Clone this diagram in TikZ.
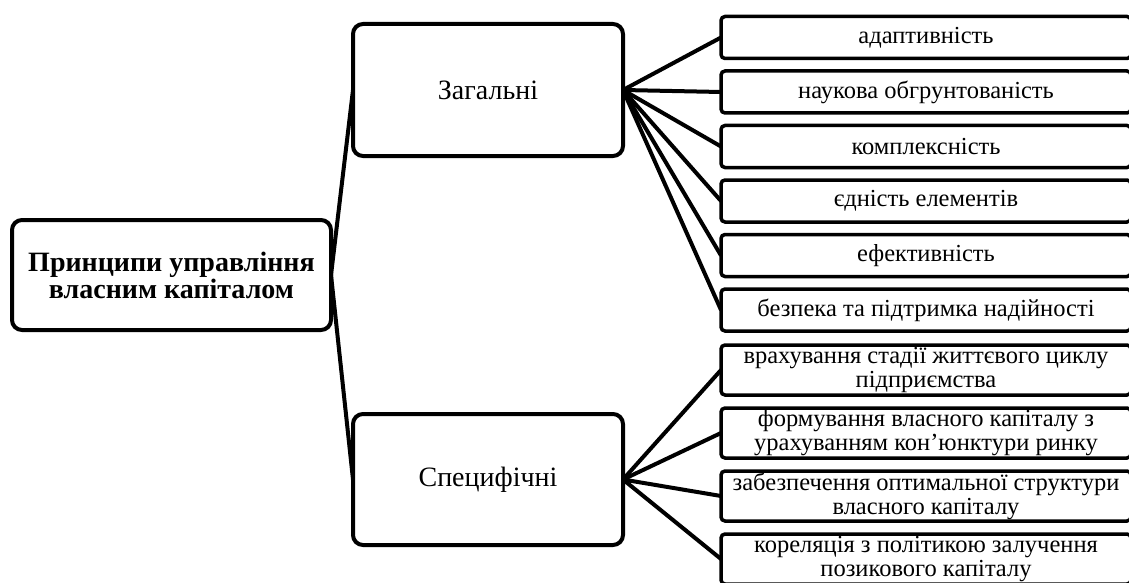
\documentclass[tikz,border=0pt]{standalone}
\usepackage{fontspec}
\setmainfont{Liberation Serif}
\begin{document}
\begin{tikzpicture}[x=1pt,y=-1pt,
  big/.style={draw, line width=4pt, rounded corners=10pt, fill=white, align=center, inner sep=0pt, outer sep=0pt, minimum width=270pt},
  bigfont/.style={font=\fontsize{28}{27}\selectfont},
  item/.style={draw, line width=3.5pt, rounded corners=4pt, fill=white, align=center, inner sep=0pt, outer sep=0pt, minimum width=410pt, font=\fontsize{24.5}{24}\selectfont},
  one/.style={item, minimum height=42pt},
  two/.style={item, minimum height=50pt},
  link/.style={line width=4pt}]
\useasboundingbox (0,0) rectangle (1129,583);
\node[big, minimum width=319pt, minimum height=110pt, font=\bfseries\fontsize{28}{27}\selectfont] (root) at (171.5,275) {Принципи управління\\власним капіталом};
\node[big, bigfont, minimum height=132pt] (zag) at (488,90) {Загальні};
\node[big, bigfont, minimum height=131pt] (spec) at (488,479.5) {Специфічні};
\node[one] (i1) at (926,37.5) {адаптивність};
\node[one] (i2) at (926,92) {наукова обгрунтованість};
\node[one] (i3) at (926,146.5) {комплексність};
\node[one] (i4) at (926,201) {єдність елементів};
\node[one] (i5) at (926,255.5) {ефективність};
\node[one] (i6) at (926,310) {безпека та підтримка надійності};
\node[two] (s1) at (926,370) {врахування стадії життєвого циклу\\підприємства};
\node[two] (s2) at (926,433) {формування власного капіталу з\\урахуванням кон’юнктури ринку};
\node[two] (s3) at (926,496) {забезпечення оптимальної структури\\власного капіталу};
\node[two] (s4) at (926,559) {кореляція з політикою залучення\\позикового капіталу};
\draw[link] (root.east) -- (zag.west);
\draw[link] (root.east) -- (spec.west);
\foreach \n in {i1,i2,i3,i4,i5,i6} \draw[link] (zag.east) -- (\n.west);
\foreach \n in {s1,s2,s3,s4} \draw[link] (spec.east) -- (\n.west);
\end{tikzpicture}
\end{document}
